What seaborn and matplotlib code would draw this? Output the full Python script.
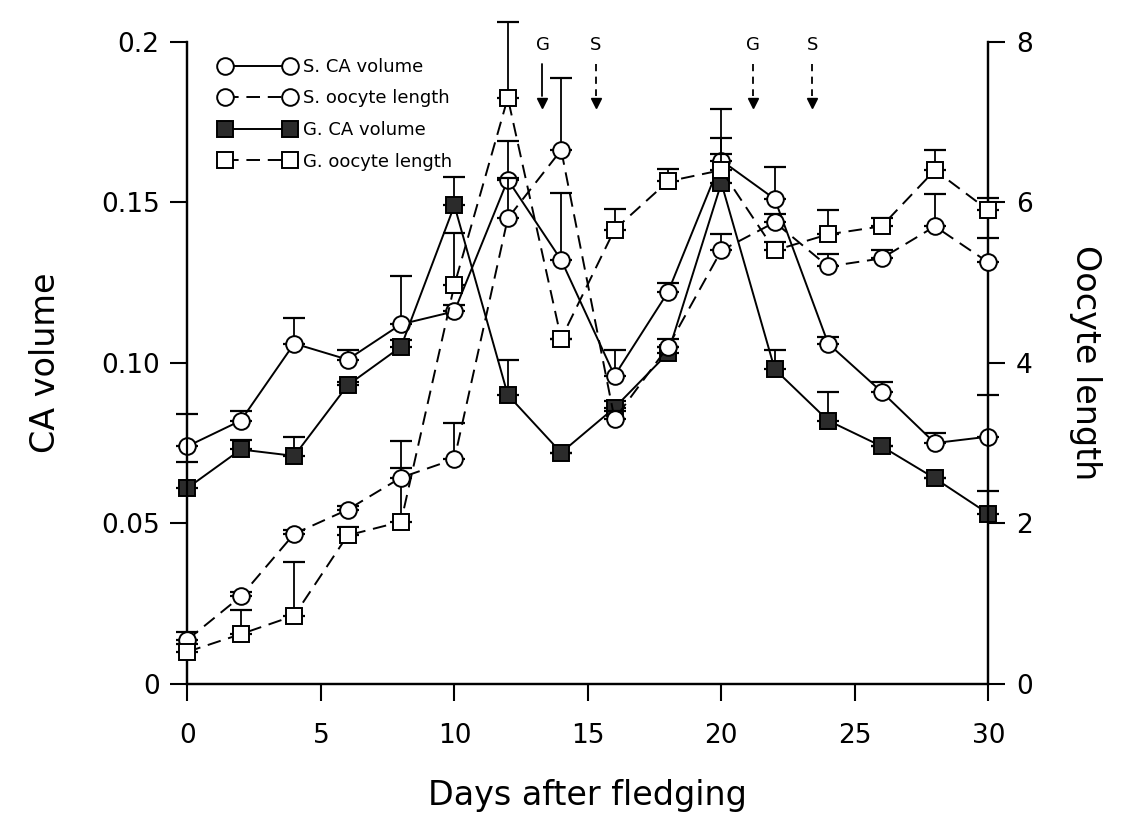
import numpy as np
import pandas as pd
import matplotlib
matplotlib.use("Agg")
import matplotlib.pyplot as plt
from matplotlib.lines import Line2D
import seaborn as sns

# Ngày sau khi rời tổ (mẫu lấy mỗi 2 ngày)
days = list(range(0, 31, 2))

# CA volume (trục trái)
s_ca = [0.074, 0.082, 0.106, 0.101, 0.112, 0.116, 0.157, 0.132, 0.096, 0.122,
        0.163, 0.151, 0.106, 0.091, 0.075, 0.077]
s_ca_err = [0.010, 0.003, 0.008, 0.003, 0.015, 0.002, 0.012, 0.021, 0.008, 0.003,
            0.016, 0.010, 0.002, 0.003, 0.003, 0.013]
g_ca = [0.061, 0.073, 0.071, 0.093, 0.105, 0.149, 0.090, 0.072, 0.086, 0.103,
        0.156, 0.098, 0.082, 0.074, 0.064, 0.053]
g_ca_err = [0.008, 0.003, 0.006, 0.001, 0.002, 0.009, 0.011, 0.0, 0.002, 0.002,
            0.014, 0.006, 0.009, 0.0, 0.0, 0.007]

# Oocyte length (trục phải)
s_oo = [0.55, 1.09, 1.87, 2.17, 2.57, 2.8, 5.8, 6.65, 3.3, 4.2,
        5.4, 5.75, 5.2, 5.3, 5.7, 5.25]
s_oo_err = [0.1, 0.05, 0.05, 0.05, 0.45, 0.45, 0.5, 0.9, 0.1, 0.1,
            0.2, 0.1, 0.15, 0.1, 0.4, 0.3]
g_oo = [0.4, 0.62, 0.85, 1.85, 2.02, 4.97, 7.3, 4.3, 5.66, 6.26,
        6.4, 5.4, 5.6, 5.7, 6.4, 5.9]
g_oo_err = [0.1, 0.3, 0.67, 0.1, 0.67, 0.65, 0.95, 0.0, 0.25, 0.15,
            0.2, 0.1, 0.3, 0.1, 0.25, 0.15]

# Mũi tên G / S phía trên
arrow_days = [13.3, 15.3, 21.2, 23.4]
arrow_labels = ["G", "S", "G", "S"]

legend_labels = ["S. CA volume", "S. oocyte length", "G. CA volume", "G. oocyte length"]

sns.set_style("ticks")
plt.rcParams["font.family"] = ["DejaVu Sans"]
plt.rcParams["text.color"] = "black"
plt.rcParams["axes.labelcolor"] = "black"
plt.rcParams["xtick.color"] = "black"
plt.rcParams["ytick.color"] = "black"
plt.rcParams["axes.edgecolor"] = "black"

fig = plt.figure(figsize=(11.36, 8.34), dpi=100)
ax = fig.add_axes([0.165, 0.18, 0.705, 0.77])
ax2 = ax.twinx()

dash = (0, (7, 4))
ms = 12
dark = "#2b2b2b"

def draw(axis, y, err, marker, ls, face):
    sns.lineplot(x=days, y=y, ax=axis, color="black", linestyle=ls, linewidth=1.4,
                 marker=marker, markersize=ms, markerfacecolor=face,
                 markeredgecolor="black", markeredgewidth=1.4,
                 errorbar=None, clip_on=False, zorder=3)
    axis.errorbar(days, y, yerr=[np.zeros(len(err)), err], fmt="none",
                  ecolor="black", elinewidth=1.3, capsize=8, capthick=1.6,
                  clip_on=False, zorder=2)

draw(ax, s_ca, s_ca_err, "o", "-", "white")
draw(ax, g_ca, g_ca_err, "s", "-", dark)
draw(ax2, s_oo, s_oo_err, "o", dash, "white")
draw(ax2, g_oo, g_oo_err, "s", dash, "white")

# Mũi tên
for i, (d, lab) in enumerate(zip(arrow_days, arrow_labels)):
    ls = "-" if i == 0 else (0, (4, 3))
    ax.plot([d, d], [0.193, 0.183], color="black", lw=1.3, linestyle=ls, clip_on=False)
    ax.plot([d], [0.181], marker="v", color="black", markersize=7, clip_on=False)
    ax.text(d, 0.199, lab, ha="center", va="center", fontsize=13)

ax.set_xlim(0, 30)
ax.set_ylim(0, 0.2)
ax2.set_ylim(0, 8)
ax.set_xticks(range(0, 31, 5))
ax.set_yticks([0, 0.05, 0.10, 0.15, 0.2])
ax.set_yticklabels(["0", "0.05", "0.10", "0.15", "0.2"])
ax2.set_yticks([0, 2, 4, 6, 8])

for a in (ax, ax2):
    a.spines["top"].set_visible(False)
    for s in ("left", "right", "bottom"):
        a.spines[s].set_linewidth(1.6)
        a.spines[s].set_color("black")
    a.tick_params(length=12, width=1.5, labelsize=19, pad=8, colors="black")
ax.tick_params(axis="x", pad=16)

ax.set_xlabel("Days after fledging", fontsize=24, labelpad=22)
ax.set_ylabel("CA volume", fontsize=24, labelpad=28)
ax2.set_ylabel("Oocyte length", fontsize=24, rotation=270, labelpad=50)

if ax.get_legend():
    ax.get_legend().remove()
if ax2.get_legend():
    ax2.get_legend().remove()

handles = [
    Line2D([], [], color="black", lw=1.4, marker="o", markersize=ms,
           markerfacecolor="white", markeredgewidth=1.4),
    Line2D([], [], color="black", lw=1.4, linestyle=dash, marker="o", markersize=ms,
           markerfacecolor="white", markeredgewidth=1.4),
    Line2D([], [], color="black", lw=1.4, marker="s", markersize=ms,
           markerfacecolor=dark, markeredgewidth=1.4),
    Line2D([], [], color="black", lw=1.4, linestyle=dash, marker="s", markersize=ms,
           markerfacecolor="white", markeredgewidth=1.4),
]
ax2.legend(handles, legend_labels, loc="upper left", bbox_to_anchor=(0.02, 1.0),
           frameon=False, numpoints=2, handlelength=4.2, fontsize=13,
           labelspacing=0.75, handletextpad=0.4)

plt.savefig("out.png", dpi=100)
